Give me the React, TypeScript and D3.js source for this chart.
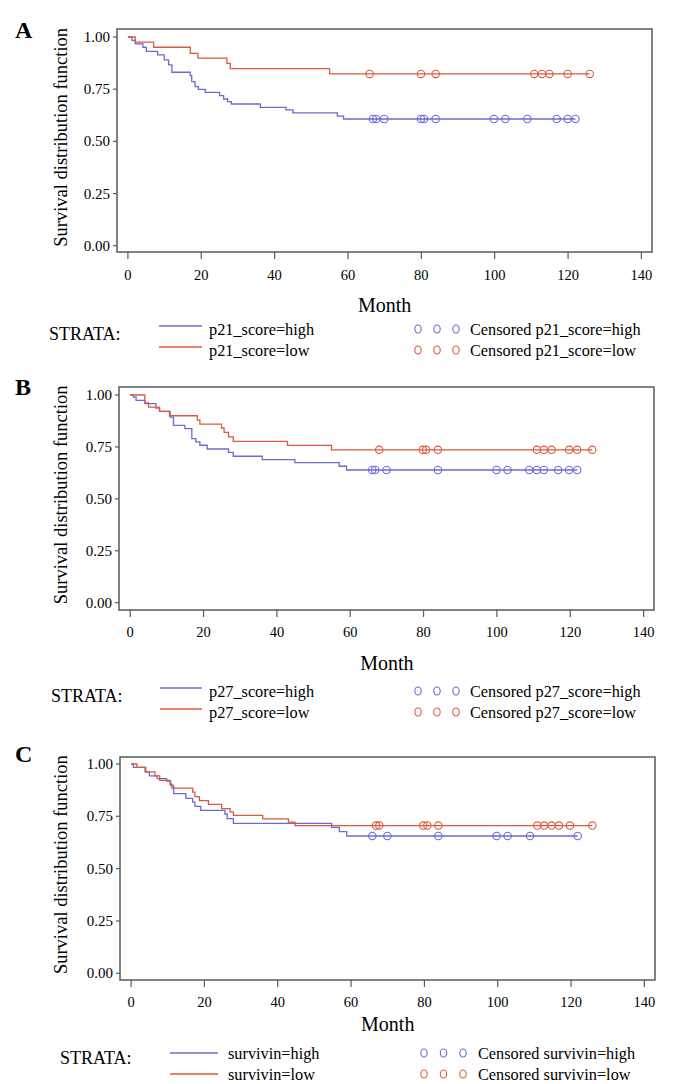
import React from 'react';
import * as d3 from 'd3';

// ---------- axis ticks ----------
const monthTicks = [0, 20, 40, 60, 80, 100, 120, 140];
const survTicks = [0, 0.25, 0.5, 0.75, 1];
const survTickLabels = ['0.00', '0.25', '0.50', '0.75', '1.00'];

// ---------- Panel A : p21 ----------
const aHighTimes = [1.1, 2.0, 4.1, 5.0, 8.1, 9.9, 11.1, 12.0, 17.0, 17.4, 18.3, 19.2, 21.1, 25.0, 26.1, 27.2, 28.2, 36.1, 43.1, 45.0, 57.1, 58.8];
const aHighSurv = [0.984, 0.967, 0.951, 0.931, 0.914, 0.890, 0.866, 0.831, 0.815, 0.786, 0.762, 0.749, 0.735, 0.719, 0.703, 0.690, 0.679, 0.663, 0.651, 0.636, 0.621, 0.607];
const aHighCensor = [66.8, 67.7, 69.9, 79.9, 80.7, 83.9, 99.8, 102.9, 108.9, 116.9, 119.9, 122.0];
const aLowTimes = [2.0, 7.0, 17.0, 19.1, 27.0, 27.9, 55.0];
const aLowSurv = [0.975, 0.951, 0.922, 0.899, 0.874, 0.848, 0.823];
const aLowCensor = [65.9, 79.9, 83.9, 110.8, 112.9, 114.9, 119.9, 125.9];

// ---------- Panel B : p27 ----------
const bHighTimes = [0.9, 1.6, 4.0, 7.0, 8.0, 10.9, 11.8, 14.9, 16.8, 17.9, 19.0, 21.0, 26.8, 28.1, 36.0, 44.9, 57.0, 59.0];
const bHighSurv = [0.990, 0.974, 0.958, 0.937, 0.921, 0.893, 0.854, 0.838, 0.790, 0.774, 0.758, 0.740, 0.724, 0.705, 0.689, 0.674, 0.657, 0.639];
const bHighCensor = [66.0, 66.8, 69.9, 83.9, 99.9, 102.9, 108.8, 110.9, 112.8, 116.7, 119.7, 121.9];
const bLowTimes = [4.0, 5.0, 8.0, 10.7, 18.3, 19.0, 24.9, 25.6, 26.8, 28.1, 42.9, 54.9];
const bLowSurv = [0.962, 0.942, 0.921, 0.900, 0.879, 0.860, 0.841, 0.820, 0.798, 0.777, 0.757, 0.736];
const bLowCensor = [67.9, 79.8, 80.7, 83.9, 110.9, 112.8, 114.9, 119.7, 121.9, 126.0];

// ---------- Panel C : survivin ----------
const cHighTimes = [0.6, 4.0, 5.0, 7.1, 9.7, 10.8, 11.6, 14.9, 16.8, 17.4, 19.0, 25.6, 26.2, 27.9, 54.7, 56.8, 58.8];
const cHighSurv = [0.984, 0.962, 0.943, 0.930, 0.918, 0.898, 0.858, 0.836, 0.818, 0.798, 0.778, 0.761, 0.739, 0.716, 0.697, 0.677, 0.656];
const cHighCensor = [65.8, 69.9, 83.8, 99.7, 102.7, 108.8, 121.8];
const cLowTimes = [1.6, 3.8, 6.5, 7.8, 10.6, 11.1, 16.8, 17.4, 18.6, 21.1, 24.7, 27.0, 27.9, 35.9, 42.9, 44.7];
const cLowSurv = [0.984, 0.962, 0.943, 0.922, 0.903, 0.885, 0.866, 0.844, 0.825, 0.807, 0.787, 0.771, 0.755, 0.738, 0.722, 0.706];
const cLowCensor = [66.8, 67.7, 79.7, 80.8, 83.8, 110.8, 112.6, 114.7, 116.7, 119.7, 125.8];

const panelLetters = ['A', 'B', 'C'];
const strataNames = [
  ['p21_score=high', 'p21_score=low'],
  ['p27_score=high', 'p27_score=low'],
  ['survivin=high', 'survivin=low'],
];

const BLUE = '#6b6bd4';
const RED = '#da5b3c';
const AXIS = '#5a5a5a';
const FONT = '"Liberation Serif", "Times New Roman", serif';

type Series = { times: number[]; surv: number[]; censor: number[] };

const series: { high: Series; low: Series }[] = [
  { high: { times: aHighTimes, surv: aHighSurv, censor: aHighCensor }, low: { times: aLowTimes, surv: aLowSurv, censor: aLowCensor } },
  { high: { times: bHighTimes, surv: bHighSurv, censor: bHighCensor }, low: { times: bLowTimes, surv: bLowSurv, censor: bLowCensor } },
  { high: { times: cHighTimes, surv: cHighSurv, censor: cHighCensor }, low: { times: cLowTimes, surv: cLowSurv, censor: cLowCensor } },
];

// layout (pixels)
const layouts = [
  { l: 117, t: 29, r: 652, b: 252, x0: 127.9, x1: 641.4, y0: 245.7, y1: 37, letterY: 38, monthY: 312, tickY: 280, L1: 335,
    strataX: 49, lineX1: 159, lineX2: 202, textX: 209, circX: [418, 437, 456], ctextX: 470, lineOff: 9 },
  { l: 119, t: 387, r: 654, b: 610, x0: 130.2, x1: 643.6, y0: 602.7, y1: 395, letterY: 395, monthY: 670, tickY: 637, L1: 697,
    strataX: 51, lineX1: 160, lineX2: 202, textX: 209, circX: [418, 437, 456], ctextX: 470, lineOff: 9 },
  { l: 120, t: 757, r: 655, b: 980, x0: 131.1, x1: 644.4, y0: 973.3, y1: 764, letterY: 762, monthY: 1031, tickY: 1007, L1: 1059,
    strataX: 60, lineX1: 170, lineX2: 218, textX: 228, circX: [424, 443.5, 463], ctextX: 478, lineOff: 6 },
];

function survAt(s: Series, t: number) {
  let v = 1;
  s.times.forEach((tt, i) => { if (tt <= t) v = s.surv[i]; });
  return v;
}

function Panel({ idx }: { idx: number }) {
  const L = layouts[idx];
  const S = series[idx];
  const x = d3.scaleLinear().domain([0, 140]).range([L.x0, L.x1]);
  const y = d3.scaleLinear().domain([0, 1]).range([L.y0, L.y1]);
  const line = d3.line<[number, number]>().x(d => x(d[0])).y(d => y(d[1])).curve(d3.curveStepAfter);

  const path = (s: Series) => {
    const pts: [number, number][] = [[0, 1]];
    s.times.forEach((t, i) => pts.push([t, s.surv[i]]));
    const last = d3.max(s.censor) as number;
    pts.push([last, s.surv[s.surv.length - 1]]);
    return line(pts) as string;
  };

  const L2 = L.L1 + 21;
  const yLabelCy = (L.y0 + L.y1) / 2 - 4;

  return (
    <g>
      <text x={15} y={L.letterY} fontFamily={FONT} fontWeight="bold" fontSize={24}>{panelLetters[idx]}</text>
      <text transform={`translate(67,${yLabelCy}) rotate(-90)`} textAnchor="middle" fontFamily={FONT} fontSize={18.5}>
        Survival distribution function
      </text>
      <rect x={L.l} y={L.t} width={L.r - L.l} height={L.b - L.t} fill="none" stroke={AXIS} strokeWidth={1.5} />
      {survTicks.map((v, i) => (
        <g key={'y' + i}>
          <line x1={L.l - 4} x2={L.l} y1={y(v)} y2={y(v)} stroke={AXIS} strokeWidth={1.2} />
          <text x={L.l - 7} y={y(v) + 5} textAnchor="end" fontFamily={FONT} fontSize={15}>{survTickLabels[i]}</text>
        </g>
      ))}
      {monthTicks.map((m, i) => (
        <g key={'x' + i}>
          <line x1={x(m)} x2={x(m)} y1={L.b} y2={L.b + 7} stroke={AXIS} strokeWidth={1.2} />
          <text x={x(m)} y={L.tickY} textAnchor="middle" fontFamily={FONT} fontSize={14.5}>{m}</text>
        </g>
      ))}
      <text x={(L.x0 + L.x1) / 2} y={L.monthY} textAnchor="middle" fontFamily={FONT} fontSize={20}>Month</text>

      <path d={path(S.high)} fill="none" stroke={BLUE} strokeWidth={1.3} />
      <path d={path(S.low)} fill="none" stroke={RED} strokeWidth={1.3} />
      {S.high.censor.map((c, i) => (
        <circle key={'hc' + i} cx={x(c)} cy={y(survAt(S.high, c))} r={3.7} fill="none" stroke={BLUE} strokeWidth={1.1} />
      ))}
      {S.low.censor.map((c, i) => (
        <circle key={'lc' + i} cx={x(c)} cy={y(survAt(S.low, c))} r={3.7} fill="none" stroke={RED} strokeWidth={1.1} />
      ))}

      {/* legend */}
      <text x={L.strataX} y={L.L1 + 5} fontFamily={FONT} fontSize={18}>STRATA:</text>
      <line x1={L.lineX1} x2={L.lineX2} y1={L.L1 - L.lineOff} y2={L.L1 - L.lineOff} stroke={BLUE} strokeWidth={1.3} />
      <line x1={L.lineX1} x2={L.lineX2} y1={L2 - L.lineOff} y2={L2 - L.lineOff} stroke={RED} strokeWidth={1.3} />
      <text x={L.textX} y={L.L1} fontFamily={FONT} fontSize={16.3}>{strataNames[idx][0]}</text>
      <text x={L.textX} y={L2} fontFamily={FONT} fontSize={16.3}>{strataNames[idx][1]}</text>
      {L.circX.map((cx, i) => (
        <g key={'lg' + i}>
          <ellipse cx={cx} cy={L.L1 - 6} rx={3.2} ry={4} fill="none" stroke={BLUE} strokeWidth={1.1} />
          <ellipse cx={cx} cy={L2 - 6} rx={3.2} ry={4} fill="none" stroke={RED} strokeWidth={1.1} />
        </g>
      ))}
      <text x={L.ctextX} y={L.L1} fontFamily={FONT} fontSize={16.3}>{'Censored ' + strataNames[idx][0]}</text>
      <text x={L.ctextX} y={L2} fontFamily={FONT} fontSize={16.3}>{'Censored ' + strataNames[idx][1]}</text>
    </g>
  );
}

export default function App() {
  return (
    <svg width={696} height={1084} style={{ position: 'absolute', left: 0, top: 0, background: '#fff' }}>
      <rect x={0} y={0} width={696} height={1084} fill="#fff" />
      {[0, 1, 2].map(i => <Panel key={i} idx={i} />)}
    </svg>
  );
}
